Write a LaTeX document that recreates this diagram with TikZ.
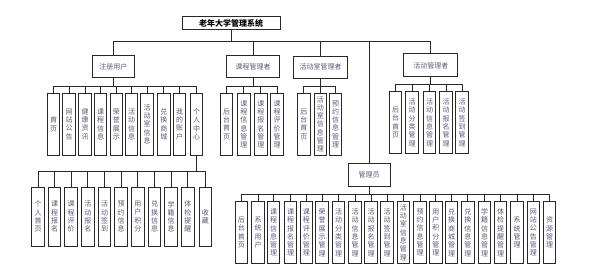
\documentclass[tikz,border=0pt]{standalone}
\usepackage{fontspec}
\newfontfamily\cjk{Noto Sans CJK SC}
\definecolor{txt}{RGB}{95,88,120}
\definecolor{ln}{RGB}{40,40,40}
\begin{document}
\begin{tikzpicture}[x=1pt,y=-1pt,
  box/.style={draw=ln,line width=1pt,fill=white,inner sep=0pt,text=txt,font=\cjk\fontsize{7}{8.3}\selectfont},
  topbox/.style={box,minimum width=98pt,minimum height=13pt,text=black,font=\cjk\bfseries\fontsize{8}{9}\selectfont},
  midbox/.style={box,minimum height=22pt},
  vbox/.style={box,minimum width=12.5pt,align=center},
  conn/.style={draw=ln,line width=0.8pt}]
\useasboundingbox (0,0) rectangle (608,278);
% top
\node[topbox] (root) at (231,23.5) {老年大学管理系统};
\coordinate (b0) at (0,41.7);
\node[midbox,minimum width=42pt] (u) at (113.3,67) {注册用户};
\node[midbox,minimum width=52.6pt] (k) at (253,67) {课程管理者};
\node[midbox,minimum width=54.4pt] (s) at (320.5,67.2) {活动室管理者};
\node[midbox,minimum width=54pt,minimum height=23pt] (h) at (430.8,65.5) {活动管理者};
\node[midbox,minimum width=41.7pt,minimum height=22.7pt] (a) at (369.2,175.3) {管理员};
\foreach \c in {u,k,s,a,h}{\draw[conn] (root.south) -- (root.south |- b0) -| (\c.north);}
% group u
\coordinate (b1) at (0,86);
\foreach \n/\x/\t in {u1/53.7/{首\\页},u2/69.2/{网\\站\\公\\告},u3/85/{健\\康\\资\\讯},u4/100.5/{课\\程\\信\\息},u5/116.3/{荣\\誉\\展\\示},u6/131.5/{活\\动\\信\\息},u7/147.2/{活\\动\\室\\信\\息},u8/163.8/{兑\\换\\商\\城},u9/179.7/{我\\的\\账\\户},u10/196.7/{个\\人\\中\\心}}{
  \node[vbox,minimum height=61.7pt] (\n) at (\x,124.2) {\t};
  \draw[conn] (u.south) -- (u.south |- b1) -| (\n.north);}
% group personal
\coordinate (b2) at (0,171.7);
\foreach \n/\x/\t in {p1/38/{个\\人\\首\\页},p2/54.5/{课\\程\\报\\名},p3/71.2/{课\\程\\评\\价},p4/87.8/{活\\动\\报\\名},p5/104.5/{活\\动\\签\\到},p6/121.2/{预\\约\\信\\息},p7/137.8/{用\\户\\积\\分},p8/154.5/{兑\\换\\信\\息},p9/171.2/{学\\籍\\信\\息},p10/187.8/{体\\检\\提\\醒},p11/205.3/{收\\藏}}{
  \node[vbox,minimum height=58.7pt] (\n) at (\x,216.7) {\t};
  \draw[conn] (u10.south) -- (u10.south |- b2) -| (\n.north);}
% group k
\foreach \n/\x/\t in {k1/226.7/{后\\台\\首\\页},k2/243.8/{课\\程\\信\\息\\管\\理},k3/260.8/{课\\程\\报\\名\\管\\理},k4/277.2/{课\\程\\评\\价\\管\\理}}{
  \node[vbox,minimum height=61.7pt] (\n) at (\x,124.2) {\t};
  \draw[conn] (k.south) -- (k.south |- b1) -| (\n.north);}
% group s
\foreach \n/\x/\t in {s1/303.8/{后\\台\\首\\页},s2/320.3/{活\\动\\室\\信\\息\\管\\理},s3/335.5/{预\\约\\信\\息\\管\\理}}{
  \node[vbox,minimum height=61.7pt] (\n) at (\x,124.2) {\t};
  \draw[conn] (s.south) -- (s.south |- b1) -| (\n.north);}
% group h
\coordinate (b3) at (0,84.3);
\foreach \n/\x/\t in {h1/395.5/{后\\台\\首\\页},h2/412.2/{活\\动\\分\\类\\管\\理},h3/429.5/{活\\动\\信\\息\\管\\理},h4/446.2/{活\\动\\报\\名\\管\\理},h5/462/{活\\动\\签\\到\\管\\理}}{
  \node[vbox,minimum height=61.7pt] (\n) at (\x,122.5) {\t};
  \draw[conn] (h.south) -- (h.south |- b3) -| (\n.north);}
% group admin
\coordinate (b4) at (0,194.3);
\foreach \n/\x/\t in {a1/241.3/{后\\台\\首\\页},a2/258/{系\\统\\用\\户},a3/273.5/{课\\程\\信\\息\\管\\理},a4/290.5/{课\\程\\报\\名\\管\\理},a5/306.3/{课\\程\\评\\价\\管\\理},a6/322/{荣\\誉\\展\\示\\管\\理},a7/338.7/{活\\动\\分\\类\\管\\理},a8/355/{活\\动\\信\\息\\管\\理},a9/371.2/{活\\动\\报\\名\\管\\理},a10/387.2/{活\\动\\签\\到\\管\\理},a11/403.3/{活\\动\\室\\信\\息\\管\\理},a12/420/{预\\约\\信\\息\\管\\理},a13/435.8/{用\\户\\积\\分\\管\\理},a14/451.5/{兑\\换\\商\\城\\管\\理},a15/467.8/{兑\\换\\信\\息\\管\\理},a16/484.5/{学\\籍\\信\\息\\管\\理},a17/500.5/{体\\检\\提\\醒\\管\\理},a18/517.2/{系\\统\\管\\理},a19/533.3/{网\\站\\公\\告\\管\\理},a20/549.5/{资\\源\\管\\理}}{
  \node[vbox,minimum height=61.7pt] (\n) at (\x,232.5) {\t};
  \draw[conn] (a.south) -- (a.south |- b4) -| (\n.north);}
\end{tikzpicture}
\end{document}
